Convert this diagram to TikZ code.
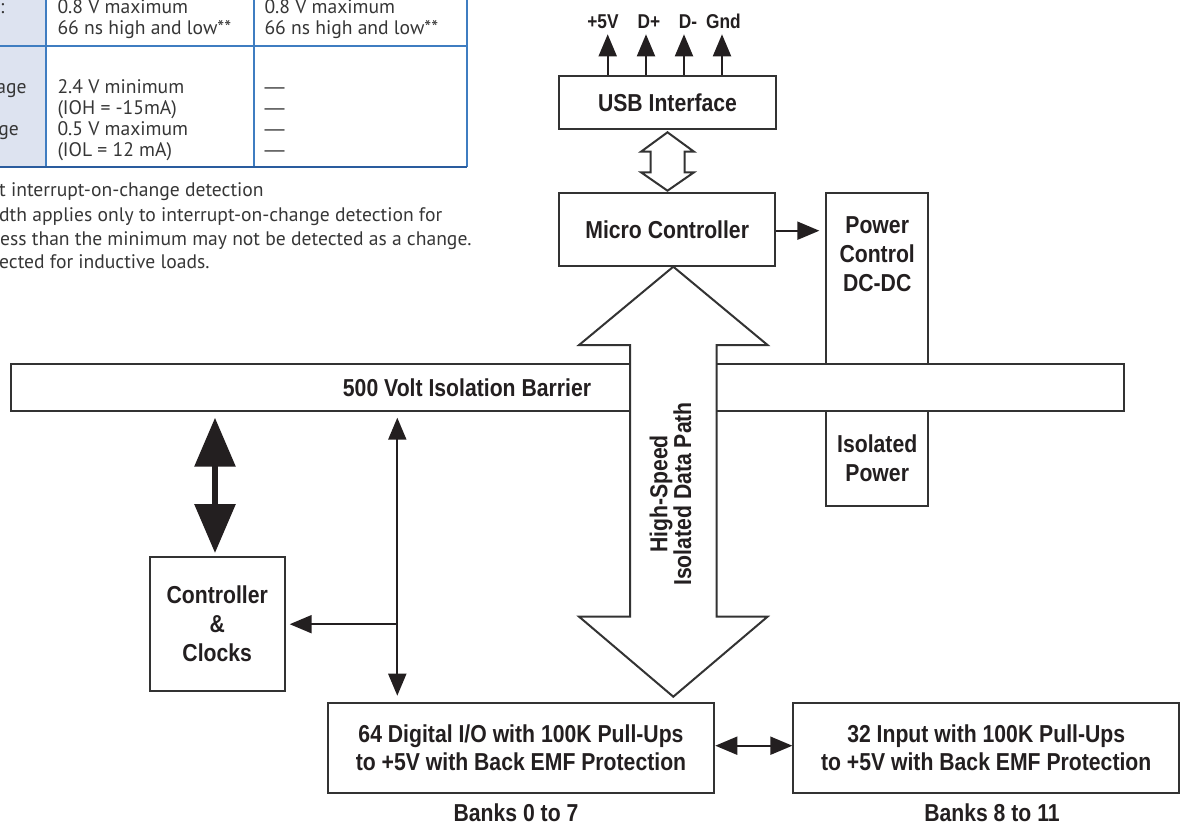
\documentclass[tikz,border=0pt]{standalone}
\usepackage{fontspec}
\setmainfont{PT Sans}
\newfontfamily\lbl[FakeStretch=0.865]{Liberation Sans Bold}
\newfontfamily\dashfont{Liberation Sans}
\usetikzlibrary{arrows.meta}
\definecolor{ink}{HTML}{231F20}
\definecolor{edge}{HTML}{333333}
\definecolor{tblue}{HTML}{3F7DC1}
\definecolor{tdark}{HTML}{2A5C9E}
\definecolor{tfill}{HTML}{DDE3F0}
\definecolor{ttext}{HTML}{363636}
\tikzset{
  box/.style={draw=edge, line width=2pt, fill=white, inner sep=0pt, align=center,
    text=ink, font=\lbl\fontsize{24.5}{29}\selectfont},
  lbltext/.style={inner sep=0pt, align=center, text=ink, font=\lbl\fontsize{24.5}{29}\selectfont},
  pinlbl/.style={inner sep=0pt, text=ink, font=\lbl\fontsize{20}{20}\selectfont},
  tbl/.style={inner sep=0pt, text=ttext, font=\fontsize{19.6}{21}\selectfont},
  thinline/.style={draw=ink, line width=2pt},
  onetip/.style={-{Triangle[length=22pt,width=18pt]}},
  twotips/.style={{Triangle[length=22pt,width=18pt]}-{Triangle[length=22pt,width=18pt]}},
  bigtips/.style={draw=ink, line width=6pt,
    {Triangle[length=49pt,width=40pt]}-{Triangle[length=49pt,width=40pt]}},
  hollow/.style={draw=edge, line width=2pt, fill=white, line join=miter},
}
\begin{document}
\begin{tikzpicture}[x=1pt,y=-1pt]
\useasboundingbox (0,0) rectangle (1184,824);

% ---------- cut-off table (top left) ----------
\fill[tfill] (0,0) rectangle (46,167.3);
\draw[tblue, line width=2pt] (46,0) -- (46,167.3);
\draw[tblue, line width=2pt] (253.7,0) -- (253.7,167.3);
\draw[tblue, line width=2pt] (467,0) -- (467,167.3);
\draw[tblue, line width=2pt] (0,45.7) -- (467,45.7);
\draw[tdark, line width=2pt] (0,167.3) -- (467,167.3);

\node[tbl, anchor=base east] (h1) at (4.5,13.3) {:};
\node[tbl, anchor=base east] (h2) at (26.7,93.3) {age};
\node[tbl, anchor=base east] (h3) at (19,135.3) {ge};

\node[tbl, anchor=base west] (a1) at (57.3,13.3) {0.8 V maximum};
\node[tbl, anchor=base west] (a2) at (57.3,34.3) {66 ns high and low**};
\node[tbl, anchor=base west] (a3) at (57.3,93.3) {2.4 V minimum};
\node[tbl, anchor=base west] (a4) at (57.3,114.3) {(IOH = -15mA)};
\node[tbl, anchor=base west] (a5) at (57.3,135.3) {0.5 V maximum};
\node[tbl, anchor=base west] (a6) at (57.3,156.3) {(IOL = 12 mA)};

\node[tbl, anchor=base west] (b1) at (264.3,13.3) {0.8 V maximum};
\node[tbl, anchor=base west] (b2) at (264.3,34.3) {66 ns high and low**};
\foreach \i/\y in {3/93.3,4/114.3,5/135.3,6/156.3}{
  \node[tbl, anchor=base west, font=\dashfont\fontsize{20}{21}\selectfont] (b\i) at (264.3,\y) {—};
}

\node[tbl, anchor=base west] (f1) at (-1,196.7) {t interrupt-on-change detection};
\node[tbl, anchor=base west] (f2) at (-1,221) {dth applies only to interrupt-on-change detection for};
\node[tbl, anchor=base west] (f3) at (0,245) {ess than the minimum may not be detected as a change.};
\node[tbl, anchor=base west] (f4) at (-1,268.3) {ected for inductive loads.};

% ---------- blocks ----------
\node[box, minimum width=216.4pt, minimum height=53.6pt] (usb) at (667.5,102.5) {USB Interface};
\node[box, minimum width=215.7pt, minimum height=72.7pt] (micro) at (667.2,229.7) {Micro Controller};

\node[box, minimum width=1113pt, minimum height=47pt] (barrier) at (567.5,387.8) {};
\node[lbltext] (bartext) at (467,387.7) {500 Volt Isolation Barrier};

\node[box, minimum width=101.7pt, minimum height=171pt] (power) at (877.2,278.8) {};
\node[lbltext] (powertext) at (877.2,254) {Power\\Control\\DC-DC};
\node[box, minimum width=101.7pt, minimum height=94.4pt] (iso) at (877.2,458.5) {Isolated\\Power};

\node[box, minimum width=135pt, minimum height=134.3pt] (ctrl) at (217.2,624.2) {Controller\\\&\\Clocks};
\node[box, minimum width=386.6pt, minimum height=90.6pt, font=\lbl\fontsize{24.5}{28}\selectfont] (dio) at (521,748) {64 Digital I/O with 100K Pull-Ups\\to +5V with Back EMF Protection};
\node[box, minimum width=385.7pt, minimum height=90.6pt, font=\lbl\fontsize{24.5}{28}\selectfont] (inp) at (986.2,748) {32 Input with 100K Pull-Ups\\to +5V with Back EMF Protection};

\node[lbltext, anchor=base] (banks1) at (516,821) {Banks 0 to 7};
\node[lbltext, anchor=base] (banks2) at (992,821) {Banks 8 to 11};

% ---------- USB pins ----------
\foreach \i/\x in {1/607.7,2/646,3/684,4/722}{
  \coordinate (pin\i) at (\x,34.3);
  \draw[thinline, onetip] (usb.north -| pin\i) -- (pin\i);
}
\node[pinlbl, anchor=base] (pl1) at (603,28.3) {+5V};
\node[pinlbl, anchor=base] (pl2) at (649,28.3) {D+};
\node[pinlbl, anchor=base] (pl3) at (688,28.3) {D-};
\node[pinlbl, anchor=base] (pl4) at (723.5,28.3) {Gnd};

% ---------- hollow arrow USB <-> Micro ----------
\draw[hollow] (667.5,132.3) -- (694,151.7) -- (684.5,151.7) -- (684.5,172.3) -- (694,172.3)
  -- (667.5,190.7) -- (641,172.3) -- (650.5,172.3) -- (650.5,151.7) -- (641,151.7) -- cycle;

% ---------- Micro -> Power ----------
\coordinate (ay) at (0,230.7);
\draw[thinline, onetip, shorten >=6pt] (micro.east |- ay) -- (power.west |- ay);

% ---------- big hollow data path arrow ----------
\draw[hollow] (673.3,266.7) -- (767.5,345) -- (716.6,345) -- (716.6,616.7) -- (767.5,616.7)
  -- (673.3,696.7) -- (579.1,616.7) -- (630,616.7) -- (630,345) -- (579.1,345) -- cycle;
\node[lbltext, rotate=90, font=\lbl\fontsize{24.5}{22}\selectfont] (dp) at (670.5,494) {High-Speed\\Isolated Data Path};

% ---------- big black double arrow ----------
\coordinate (bx) at (215,0);
\draw[bigtips, shorten <=5.4pt, shorten >=3pt] (barrier.south -| bx) -- (ctrl.north -| bx);

% ---------- thin bus arrows ----------
\coordinate (vx) at (397.3,0);
\draw[thinline, twotips, shorten <=5.4pt, shorten >=6pt] (barrier.south -| vx) -- (dio.north -| vx);
\draw[thinline, onetip, shorten >=4pt] (ctrl.east -| vx) -- (ctrl.east);

\coordinate (hy) at (0,745.7);
\draw[thinline, twotips] (dio.east |- hy) -- (inp.west |- hy);
\end{tikzpicture}
\end{document}
